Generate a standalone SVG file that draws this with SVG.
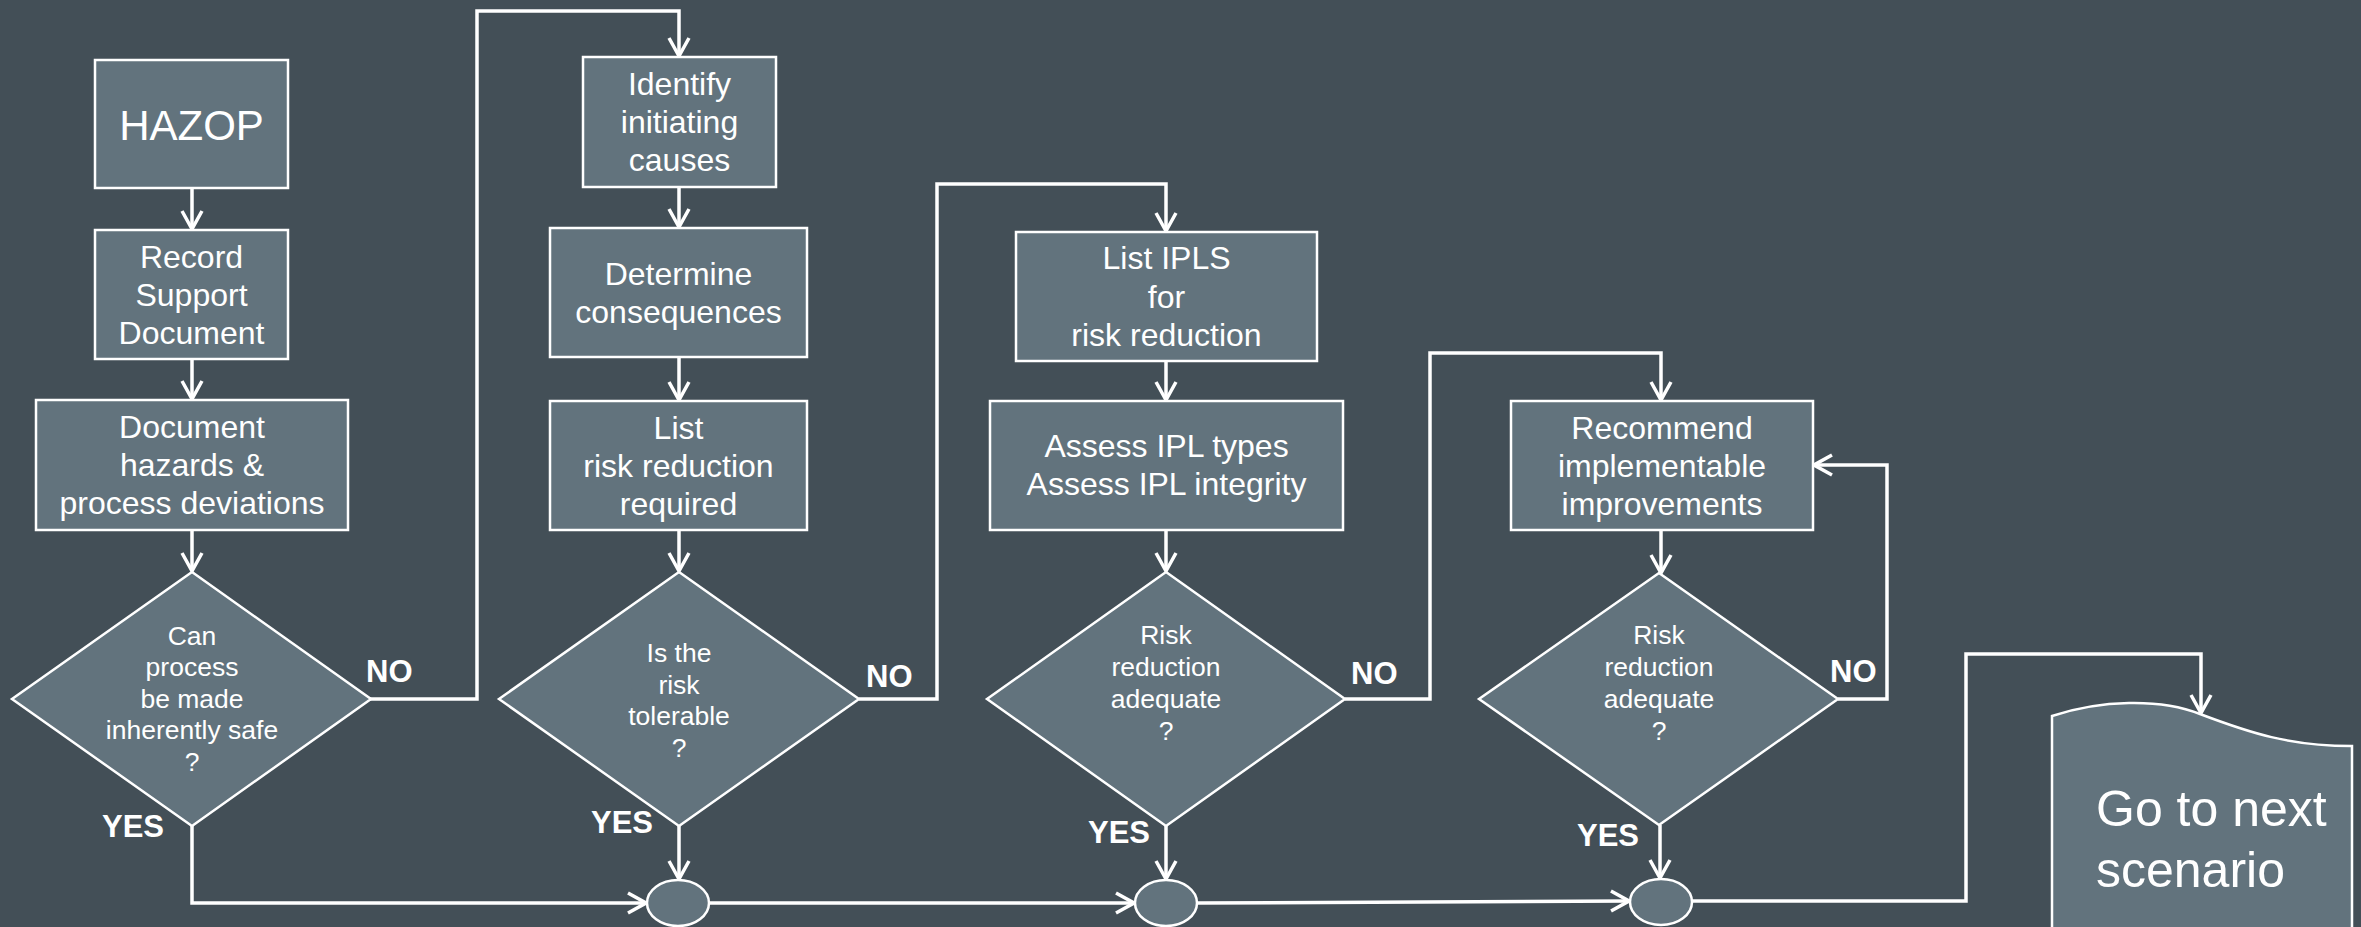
<svg xmlns="http://www.w3.org/2000/svg" width="2361" height="927" viewBox="0 0 2361 927">
<defs>
<style>
.box{fill:#62737d;stroke:#ffffff;stroke-width:2.5}
.dia{fill:#62737d;stroke:#ffffff;stroke-width:2.5}
.t{font-family:"Liberation Sans",Arial,sans-serif;fill:#ffffff;text-anchor:middle}
.bt{font-size:32px}
.dt{font-size:26.5px}
.lbl{font-family:"Liberation Sans",Arial,sans-serif;fill:#ffffff;font-weight:bold;font-size:31px}
.c{fill:none;stroke:#ffffff;stroke-width:3.5;marker-end:url(#arr)}
</style>
<marker id="arr" viewBox="0 0 22 24" refX="20" refY="12" markerWidth="22" markerHeight="24" orient="auto" markerUnits="userSpaceOnUse">
<path d="M2,2 L20,12 L2,22" fill="none" stroke="#ffffff" stroke-width="3.5"/>
</marker>
</defs>
<rect x="0" y="0" width="2361" height="927" fill="#434f57"/>

<g id="connectors">
<path class="c" d="M192,188 V229"/>
<path class="c" d="M192,359 V399"/>
<path class="c" d="M192,530 V571"/>
<path class="c" d="M370,699 H477 V11 H679 V56"/>
<path class="c" d="M679,187 V227"/>
<path class="c" d="M679,357 V400"/>
<path class="c" d="M679,530 V571"/>
<path class="c" d="M859,699 H937 V184 H1166 V231"/>
<path class="c" d="M1166,361 V400"/>
<path class="c" d="M1166,530 V571"/>
<path class="c" d="M1345,699 H1430 V353 H1661 V400"/>
<path class="c" d="M1661,530 V573"/>
<path class="c" d="M1838,699 H1887 V465 H1814"/>
<path class="c" d="M192,826 V903 H646"/>
<path class="c" d="M679,826 V879"/>
<path class="c" d="M710,903 H1134"/>
<path class="c" d="M1166,826 V879"/>
<path class="c" d="M1198,903 L1629,901"/>
<path class="c" d="M1660,825 V878"/>
<path class="c" d="M1692,901 H1966 V654 H2201 V713"/>
</g>

<g id="n-hazop">
<rect class="box" x="95" y="60" width="193" height="128"/>
<text class="t" x="191.5" y="140" font-size="42">HAZOP</text>
</g>
<g id="n-record">
<rect class="box" x="95" y="230" width="193" height="129"/>
<text class="t bt" x="191.5" y="268">Record</text>
<text class="t bt" x="191.5" y="306">Support</text>
<text class="t bt" x="191.5" y="344">Document</text>
</g>
<g id="n-document">
<rect class="box" x="36" y="400" width="312" height="130"/>
<text class="t bt" x="192" y="438">Document</text>
<text class="t bt" x="192" y="476">hazards &amp;</text>
<text class="t bt" x="192" y="514">process deviations</text>
</g>
<g id="n-d1">
<polygon class="dia" points="192,572 371,699 192,826 12,699"/>
<text class="t dt" x="192" y="645">Can</text>
<text class="t dt" x="192" y="676">process</text>
<text class="t dt" x="192" y="708">be made</text>
<text class="t dt" x="192" y="739">inherently safe</text>
<text class="t dt" x="192" y="771">?</text>
</g>
<g id="n-identify">
<rect class="box" x="583" y="57" width="193" height="130"/>
<text class="t bt" x="679.5" y="95">Identify</text>
<text class="t bt" x="679.5" y="133">initiating</text>
<text class="t bt" x="679.5" y="171">causes</text>
</g>
<g id="n-determine">
<rect class="box" x="550" y="228" width="257" height="129"/>
<text class="t bt" x="678.5" y="285">Determine</text>
<text class="t bt" x="678.5" y="323">consequences</text>
</g>
<g id="n-listrr">
<rect class="box" x="550" y="401" width="257" height="129"/>
<text class="t bt" x="678.5" y="439">List</text>
<text class="t bt" x="678.5" y="477">risk reduction</text>
<text class="t bt" x="678.5" y="515">required</text>
</g>
<g id="n-d2">
<polygon class="dia" points="679,572 859,699 679,826 499,699"/>
<text class="t dt" x="679" y="662">Is the</text>
<text class="t dt" x="679" y="694">risk</text>
<text class="t dt" x="679" y="725">tolerable</text>
<text class="t dt" x="679" y="757">?</text>
</g>
<g id="n-listipl">
<rect class="box" x="1016" y="232" width="301" height="129"/>
<text class="t bt" x="1166.5" y="269">List IPLS</text>
<text class="t bt" x="1166.5" y="308">for</text>
<text class="t bt" x="1166.5" y="346">risk reduction</text>
</g>
<g id="n-assess">
<rect class="box" x="990" y="401" width="353" height="129"/>
<text class="t bt" x="1166.5" y="457">Assess IPL types</text>
<text class="t bt" x="1166.5" y="495">Assess IPL integrity</text>
</g>
<g id="n-d3">
<polygon class="dia" points="1166,572 1345,699 1166,826 987,699"/>
<text class="t dt" x="1166" y="644">Risk</text>
<text class="t dt" x="1166" y="676">reduction</text>
<text class="t dt" x="1166" y="708">adequate</text>
<text class="t dt" x="1166" y="740">?</text>
</g>
<g id="n-recommend">
<rect class="box" x="1511" y="401" width="302" height="129"/>
<text class="t bt" x="1662" y="439">Recommend</text>
<text class="t bt" x="1662" y="477">implementable</text>
<text class="t bt" x="1662" y="515">improvements</text>
</g>
<g id="n-d4">
<polygon class="dia" points="1659,573 1838,699 1659,825 1479,699"/>
<text class="t dt" x="1659" y="644">Risk</text>
<text class="t dt" x="1659" y="676">reduction</text>
<text class="t dt" x="1659" y="708">adequate</text>
<text class="t dt" x="1659" y="740">?</text>
</g>
<g id="n-c1"><ellipse class="box" cx="678" cy="903" rx="31" ry="23"/></g>
<g id="n-c2"><ellipse class="box" cx="1166" cy="903" rx="31" ry="23"/></g>
<g id="n-c3"><ellipse class="box" cx="1661" cy="902" rx="31" ry="23"/></g>
<g id="n-next">
<path class="box" d="M2052,716 C2100,700 2160,698 2200,714 C2250,733 2290,746 2352,746 V935 H2052 Z"/>
<text class="t" x="2096" y="826" font-size="50" style="text-anchor:start">Go to next</text>
<text class="t" x="2096" y="887" font-size="50" style="text-anchor:start">scenario</text>
</g>
<g id="labels">
<text class="lbl" x="366" y="682">NO</text>
<text class="lbl" x="866" y="687">NO</text>
<text class="lbl" x="1351" y="684">NO</text>
<text class="lbl" x="1830" y="682">NO</text>
<text class="lbl" x="102" y="837">YES</text>
<text class="lbl" x="591" y="833">YES</text>
<text class="lbl" x="1088" y="843">YES</text>
<text class="lbl" x="1577" y="846">YES</text>
</g>
</svg>
